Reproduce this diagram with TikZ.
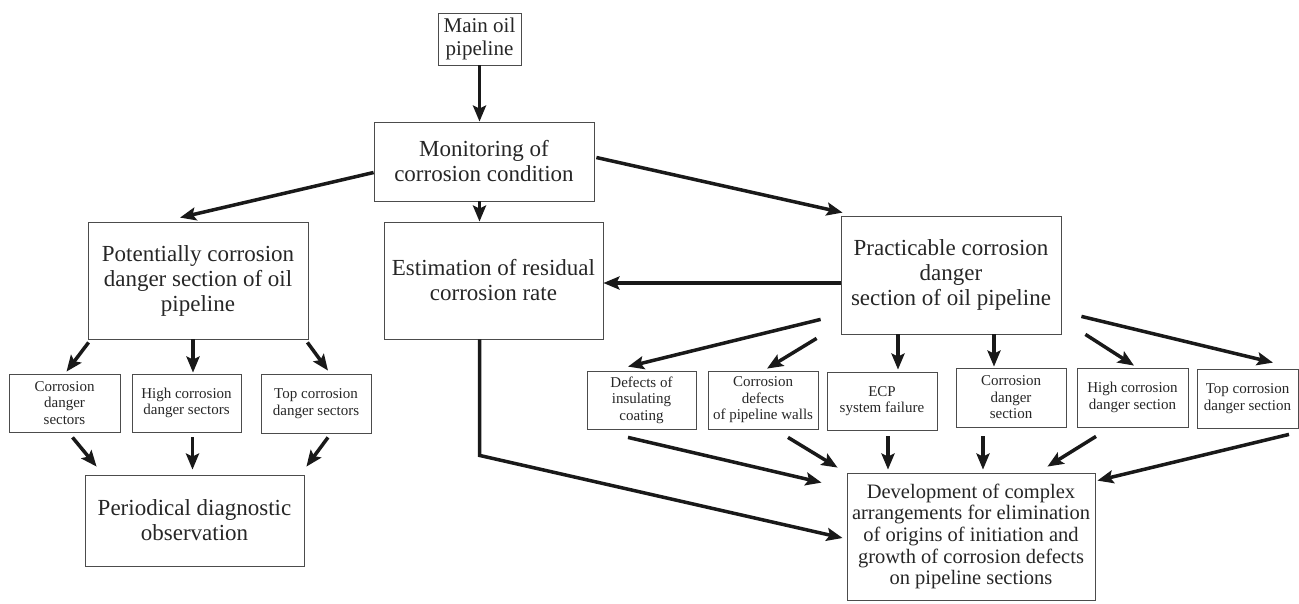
\documentclass[tikz,border=0pt]{standalone}
\usepackage{fontspec}
\setmainfont{Liberation Serif}
\usetikzlibrary{arrows.meta,calc}

\tikzset{
  plainbox/.style={draw=black!70, line width=0.8pt, inner sep=0pt, align=center, text=black!85},
  bigbox/.style={plainbox, font=\fontsize{23}{25}\selectfont},
  smallbox/.style={plainbox, font=\fontsize{15}{16.5}\selectfont},
  flow/.style={line width=3.5pt, draw=black!90, -{Stealth[length=16pt,width=13pt,inset=3pt]}},
}

\begin{document}
\begin{tikzpicture}[x=1pt, y=-1pt]
	\useasboundingbox (0,0) rectangle (1299,603);

	% top of the scheme
	\node[plainbox, font=\fontsize{21}{23}\selectfont, minimum width=83pt, minimum height=52pt] (main) at (479.5,39) {Main oil\\pipeline};
	\node[bigbox, minimum width=220pt, minimum height=79pt] (monitor) at (484,161.5) {Monitoring of\\corrosion condition};
	\node[bigbox, minimum width=219pt, minimum height=117pt] (residual) at (493.5,280.5) {Estimation of residual\\corrosion rate};
	\node[bigbox, minimum width=220pt, minimum height=117pt] (potential) at (198,280.5) {Potentially corrosion\\danger section of oil\\pipeline};
	\node[bigbox, minimum width=220pt, minimum height=118pt] (practical) at (951,275) {Practicable corrosion\\danger\\section of oil pipeline};

	% left branch
	\node[smallbox, minimum width=111pt, minimum height=58pt] (sector1) at (64.5,403) {Corrosion\\danger\\sectors};
	\node[smallbox, minimum width=109pt, minimum height=58pt] (sector2) at (186.5,403) {High corrosion\\danger sectors};
	\node[smallbox, minimum width=110pt, minimum height=59pt] (sector3) at (316,403.5) {Top corrosion\\danger sectors};
	\node[bigbox, minimum width=219pt, minimum height=91pt] (periodic) at (194.5,520.5) {Periodical diagnostic\\observation};

	% right branch
	\node[smallbox, minimum width=109pt, minimum height=58pt] (section1) at (641.5,400) {Defects of\\insulating\\coating};
	\node[smallbox, minimum width=110pt, minimum height=58pt] (section2) at (763,400) {Corrosion\\defects\\of pipeline walls};
	\node[smallbox, minimum width=110pt, minimum height=58pt] (section3) at (882,401) {ECP\\system failure};
	\node[smallbox, minimum width=110pt, minimum height=59pt] (section4) at (1011,397.5) {Corrosion\\danger\\section};
	\node[smallbox, minimum width=111pt, minimum height=59pt] (section5) at (1132.5,397.5) {High corrosion\\danger section};
	\node[smallbox, minimum width=101pt, minimum height=59pt] (section6) at (1247.5,398.5) {Top corrosion\\danger section};
	\node[plainbox, font=\fontsize{20.5}{21.7}\selectfont, minimum width=248pt, minimum height=127pt] (measures) at (971,536.5) {Development of complex\\arrangements for elimination\\of origins of initiation and\\growth of corrosion defects\\on pipeline sections};

	% arrows from the top
	\draw[flow] (main.south) -- (main.south |- monitor.north);
	\draw[flow] ([shift={(0,11)}]monitor.west) -- ([shift={(-18,-4)}]potential.north);
	\draw[flow] (monitor.south -| main) -- (residual.north -| main);
	\draw[flow] ([shift={(2,-4)}]monitor.east) -- ([shift={(2,-3)}]practical.north west);
	\draw[flow] ($(practical.west)+(0,8)$) -- ($(practical.west -| residual.east)+(0,8)$);

	% left arrows
	\draw[flow] ([shift={(1,3)}]potential.south west) -- ([shift={(2,-2)}]sector1.north);
	\draw[flow] ($(potential.south)+(-5,0)$) -- ($(potential.south |- sector2.north)+(-5,-1)$);
	\draw[flow] ([shift={(-1,3)}]potential.south east) -- ([shift={(12,-3)}]sector3.north);
	\draw[flow] ([shift={(8,5)}]sector1.south) -- ([shift={(12,-8)}]periodic.north west);
	\draw[flow] ([shift={(6,5)}]sector2.south) -- ($(sector2.south |- periodic.north)+(6,-5)$);
	\draw[flow] ([shift={(12,4)}]sector3.south) -- ([shift={(2,-8)}]periodic.north east);

	% right arrows, down to the sections
	\draw[flow] ([shift={(-20,-15)}]practical.south west) -- ([shift={(-13.5,-4)}]section1.north);
	\draw[flow] ([shift={(-24,4)}]practical.south west) -- ([shift={(4,-2)}]section2.north);
	\draw[flow] ($(section3.north |- practical.south)+(16,0)$) -- ([shift={(16,-2)}]section3.north);
	\draw[flow] ($(section4.north |- practical.south)+(-17,0)$) -- ([shift={(-17,-1)}]section4.north);
	\draw[flow] ([shift={(24,0)}]practical.south east) -- ([shift={(1.5,-2)}]section5.north);
	\draw[flow] ([shift={(20,-18)}]practical.south east) -- ([shift={(25.5,-6)}]section6.north);

	% right arrows, into the measures
	\draw[flow] ([shift={(-13.5,8)}]section1.south) -- ([shift={(-25,10)}]measures.north west);
	\draw[flow] ([shift={(25,8)}]section2.south) -- ([shift={(-9,-5)}]measures.north west);
	\draw[flow] ([shift={(6,6)}]section3.south) -- ($(section3.south |- measures.north)+(6,-3)$);
	\draw[flow] ([shift={(-28,9)}]section4.south) -- ($(section4.south |- measures.north)+(-28,-3)$);
	\draw[flow] ([shift={(-36.5,9)}]section5.south) -- ([shift={(-48,-6)}]measures.north east);
	\draw[flow] ([shift={(41.5,6)}]section6.south) -- ([shift={(2,8)}]measures.north east);
	\draw[flow] (residual.south -| main) -- ++(0,116) -- ([shift={(-4,1.5)}]measures.west);
\end{tikzpicture}
\end{document}
